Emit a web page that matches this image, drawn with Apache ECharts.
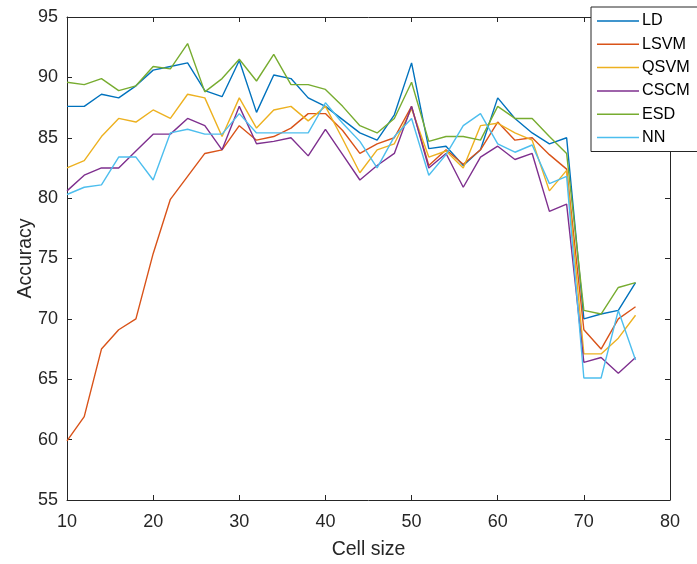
<!DOCTYPE html>
<html>
<head>
<meta charset="utf-8">
<script src="https://cdn.jsdelivr.net/npm/echarts@6/dist/echarts.min.js"></script>
<style>html,body{margin:0;padding:0;background:#fff}#c{width:697px;height:564px}</style>
</head>
<body>
<div id="c"></div>
<script>
const cellSize = [10,12,14,16,18,20,22,24,26,28,30,32,34,36,38,40,42,44,46,48,50,52,54,56,58,60,62,64,66,68,70,72,74,76];
const LD   = [87.6,87.6,88.6,88.3,89.3,90.6,90.9,91.2,88.9,88.4,91.4,87.1,90.2,89.9,88.3,87.6,86.5,85.4,84.8,86.9,91.2,84.1,84.3,82.7,84.0,88.3,86.6,85.4,84.5,85.0,70.0,70.4,70.7,73.0];
const LSVM = [59.9,61.9,67.5,69.1,70.0,75.4,79.9,81.8,83.7,84.0,86.0,84.8,85.1,85.8,87.0,87.0,85.6,83.7,84.5,85.0,87.6,82.7,84.0,82.8,84.0,86.3,84.8,85.0,83.6,82.4,69.1,67.5,70.0,71.0];
const QSVM = [82.5,83.1,85.1,86.6,86.3,87.3,86.6,88.6,88.3,85.1,88.3,85.8,87.3,87.6,86.4,87.6,84.9,82.1,84.0,84.5,87.4,83.4,83.9,82.5,86.0,86.2,85.4,84.8,80.6,82.3,67.1,67.1,68.4,70.3];
const CSCM = [80.6,81.9,82.5,82.5,83.9,85.3,85.3,86.6,86.0,84.0,87.6,84.5,84.7,85.0,83.5,85.7,83.6,81.5,82.7,83.7,87.6,82.5,83.7,80.9,83.4,84.3,83.2,83.7,78.9,79.5,66.4,66.8,65.5,66.8];
const ESD  = [89.6,89.4,89.9,88.9,89.3,90.9,90.7,92.8,88.8,89.9,91.5,89.7,91.9,89.4,89.4,89.0,87.6,86.0,85.4,86.6,89.6,84.7,85.1,85.1,84.8,87.6,86.6,86.6,85.1,83.7,70.7,70.4,72.6,73.0];
const NN   = [80.3,80.9,81.1,83.4,83.4,81.5,85.4,85.7,85.3,85.3,87.0,85.4,85.4,85.4,85.4,87.9,86.2,84.7,82.5,85.1,86.6,81.9,83.6,86.0,87.0,84.5,83.8,84.4,81.2,81.8,65.1,65.1,70.7,66.6];
const seriesNames = ['LD','LSVM','QSVM','CSCM','ESD','NN'];
const seriesData = [LD,LSVM,QSVM,CSCM,ESD,NN];
const colors = ['#0072BD','#D95319','#EDB120','#7E2F8E','#77AC30','#4DBEEE'];

const FONT = 'Liberation Sans, Arial, Helvetica, sans-serif';
const axisCol = '#262626';
const chart = echarts.init(document.getElementById('c'), null, {renderer:'canvas'});
const series = seriesNames.map((n,i)=>({
  name:n, type:'line', xAxisIndex:0, yAxisIndex:0,
  data: cellSize.map((x,j)=>[x, seriesData[i][j]]),
  showSymbol:false, symbol:'none',
  lineStyle:{width:1.4, color:colors[i]}, itemStyle:{color:colors[i]},
  emphasis:{disabled:true}, animation:false
}));
const baseAxis = {
  axisLine:{show:true, onZero:false, lineStyle:{color:axisCol, width:1}},
  axisTick:{show:true, inside:true, length:5, lineStyle:{color:axisCol}},
  splitLine:{show:false}
};
chart.setOption({
  animation:false,
  color:colors,
  grid:{left:67, right:27, top:17, bottom:64, outerBoundsMode:'none', containLabel:false},
  xAxis:[
    Object.assign({}, baseAxis, {type:'value', position:'bottom', min:10, max:80, interval:10,
      axisLabel:{color:axisCol, fontSize:18, fontFamily:FONT, margin:13},
      name:'Cell size', nameLocation:'middle', nameGap:40, nameMoveOverlap:false,
      nameTextStyle:{color:axisCol, fontSize:19.5, fontFamily:FONT}}),
    Object.assign({}, baseAxis, {type:'value', position:'top', min:10, max:80, interval:10,
      axisLabel:{show:false}})
  ],
  yAxis:[
    Object.assign({}, baseAxis, {type:'value', position:'left', min:55, max:95, interval:5,
      axisLabel:{color:axisCol, fontSize:18, fontFamily:FONT, margin:9},
      name:'Accuracy', nameLocation:'middle', nameGap:31, nameRotate:90, nameMoveOverlap:false,
      nameTextStyle:{color:axisCol, fontSize:19.5, fontFamily:FONT}}),
    Object.assign({}, baseAxis, {type:'value', position:'right', min:55, max:95, interval:5,
      axisLabel:{show:false}})
  ],
  legend:{
    orient:'vertical', left:591, top:7,
    data:seriesNames,
    icon:'rect', itemWidth:42, itemHeight:1.5, itemGap:7.3,
    textStyle:{color:'#000', fontSize:16.2, fontFamily:FONT, lineHeight:16, padding:[0,0,0,-2]},
    backgroundColor:'#fff', borderColor:axisCol, borderWidth:1,
    padding:[6,8,6,6],
    selectedMode:false
  },
  series:series
});
</script>
</body>
</html>
